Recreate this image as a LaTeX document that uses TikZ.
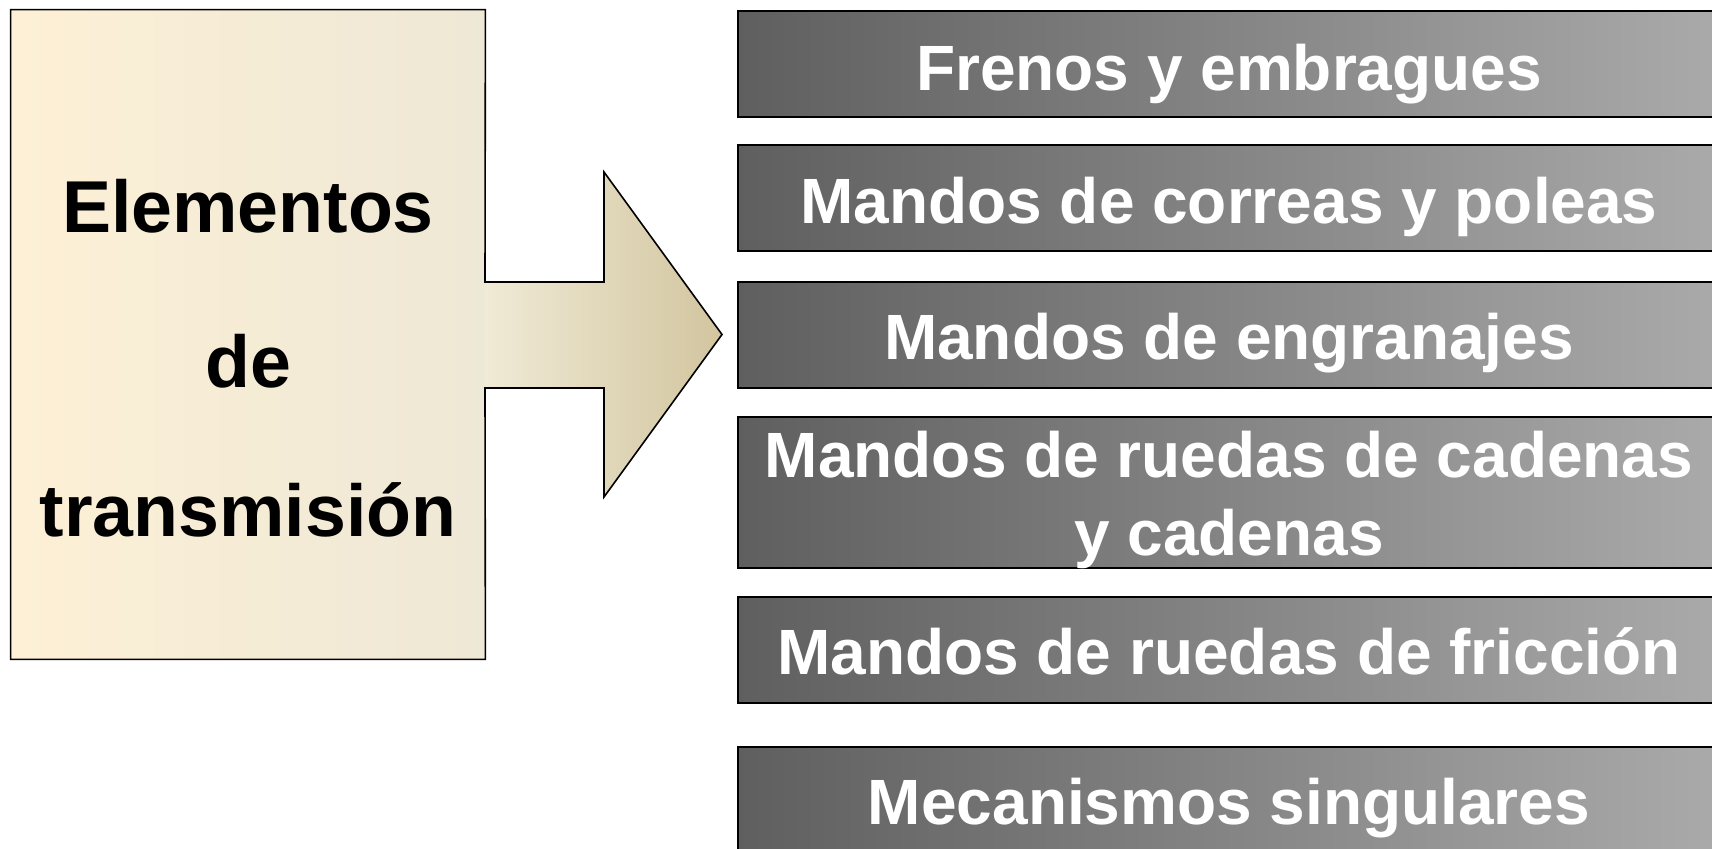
\documentclass[tikz,border=0pt]{standalone}
\usepackage{fontspec}
\setmainfont{Liberation Sans}
\definecolor{creamL}{HTML}{FDF0D6}
\definecolor{creamR}{HTML}{EEE8D6}
\definecolor{arrL}{HTML}{F0EAD6}
\definecolor{arrR}{HTML}{D2C59F}
\definecolor{grayL}{HTML}{5F5F5F}
\definecolor{grayR}{HTML}{AAAAAA}
\begin{document}
\begin{tikzpicture}[x=0.5pt,y=-0.5pt,
  item/.style={rectangle, draw=black, line width=1pt, left color=grayL, right color=grayR,
    minimum width=491pt, minimum height=53pt, inner sep=0pt},
  itemtext/.style={anchor=base, text=white, inner sep=0pt,
    font=\bfseries\fontsize{32}{38}\selectfont},
  maintext/.style={anchor=base, text=black, inner sep=0pt,
    font=\bfseries\fontsize{36.75}{44}\selectfont},
  srcbox/.style={rectangle, left color=creamL, right color=creamR,
    minimum width=237pt, minimum height=324.5pt, inner sep=0pt},
  outline/.style={draw=black, line width=0.8pt, line join=miter}]
\useasboundingbox (0,0) rectangle (1712,849);
\clip (0,0) rectangle (1712,849);

% source box and arrow
\node[srcbox] (src) at (248,334.5) {};
\coordinate (s1) at (485,282);
\coordinate (h1) at (604,282);
\coordinate (h2) at (604,172);
\coordinate (tip) at (722,334.5);
\coordinate (h3) at (604,497);
\coordinate (h4) at (604,388);
\coordinate (s2) at (485,388);
\shade[left color=arrL, right color=arrR] (s1) -- (h1) -- (h2) -- (tip) -- (h3) -- (h4) -- (s2) -- cycle;
\draw[outline] (src.north east) -- (src.north west) -- (src.south west) -- (src.south east)
  -- (s2) -- (h4) -- (h3) -- (tip) -- (h2) -- (h1) -- (s1) -- cycle;

\node[maintext] (e1) at (248,233) {Elementos};
\node[maintext] (e2) at (248,388) {de};
\node[maintext] (e3) at (248,537) {transmisión};

% item boxes
\node[item] (b1) at (1229,64.5) {};
\node[item] (b2) at (1229,198) {};
\node[item] (b3) at (1229,335) {};
\node[item, minimum height=75.5pt] (b4) at (1229,492.5) {};
\node[item] (b5) at (1229,650) {};
\node[item] (b6) at (1229,800) {};

\node[itemtext] (t1) at (1229,91) {Frenos y embragues};
\node[itemtext] (t2) at (1229,224) {Mandos de correas y poleas};
\node[itemtext] (t3) at (1229,360) {Mandos de engranajes};
\node[itemtext] (t4a) at (1229,478) {Mandos de ruedas de cadenas};
\node[itemtext] (t4b) at (1229,555) {y cadenas};
\node[itemtext] (t5) at (1229,674) {Mandos de ruedas de fricción};
\node[itemtext] (t6) at (1229,824) {Mecanismos singulares};
\end{tikzpicture}
\end{document}
